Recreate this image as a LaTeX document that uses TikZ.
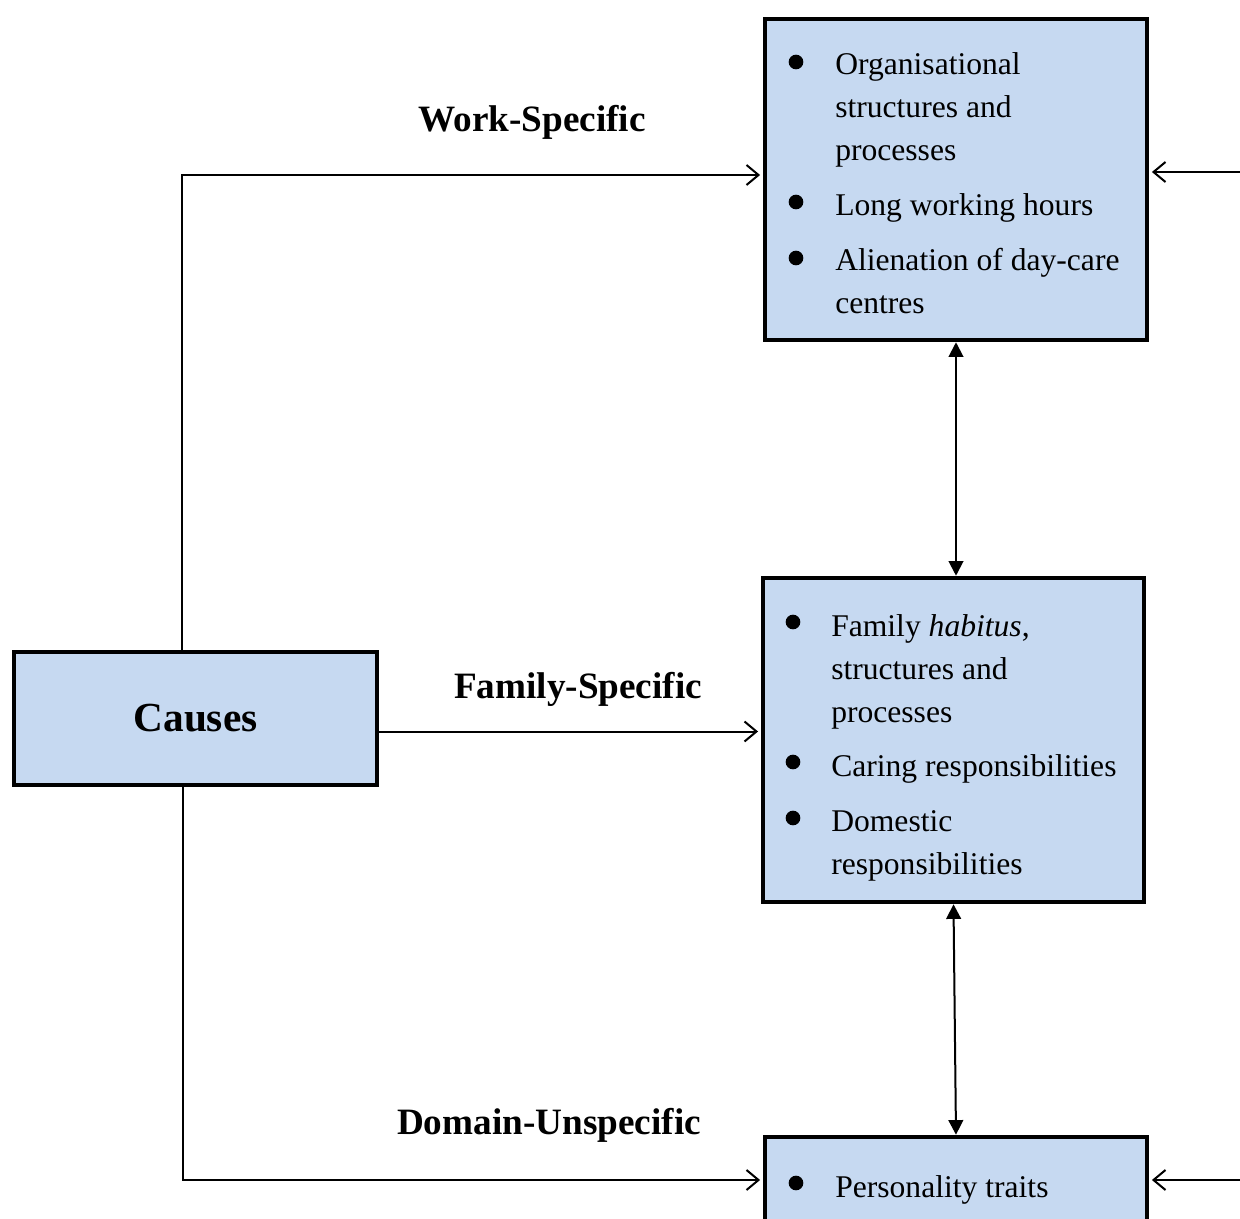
\documentclass[tikz,border=0pt]{standalone}
\usepackage{fontspec}
\setmainfont{Liberation Serif}
\usetikzlibrary{arrows.meta}
\definecolor{boxblue}{RGB}{198,217,241}
\begin{document}
\begin{tikzpicture}[x=0.75pt,y=-0.75pt,
  panel/.style={draw=black, line width=3.4pt, fill=boxblue, inner sep=0pt},
  link/.style={line width=1.5pt},
  openhead/.style={-{Straight Barb[length=9pt,width=15pt,line width=1.5pt]}, shorten >=2pt},
  twohead/.style={{Triangle[length=11pt,width=11pt]}-{Triangle[length=11pt,width=11pt]}},
  dot/.style={circle, fill=black, inner sep=0pt, minimum size=11pt},
  % multi-line items are placed by the baseline of their last line
  item/.style={anchor=base west, inner sep=0pt, align=left,
    font=\fontsize{23.7pt}{32.25pt}\selectfont},
  route/.style={anchor=base, inner sep=0pt, font=\fontsize{27.9pt}{32pt}\selectfont\bfseries},
]
\clip (0,0) rectangle (1240,1219);
\useasboundingbox (0,0) rectangle (1240,1219);

% boxes
\node[panel, minimum width=286.5pt, minimum height=240.75pt] (work) at (956,179.5) {};
\node[panel, minimum width=285.75pt, minimum height=243pt] (family) at (953.5,740) {};
\node[panel, minimum width=286.5pt, minimum height=240pt] (pers) at (956,1297) {};
\node[panel, minimum width=272.25pt, minimum height=99.75pt,
      font=\fontsize{31pt}{36pt}\selectfont\bfseries] (causes) at (195.5,718.5) {Causes};

% work-specific items
\node[dot] (w1) at (796,62) {};
\node[item] (wt1) at (835,161) {Organisational\\structures and\\processes};
\node[dot] (w2) at (796,202) {};
\node[item] (wt2) at (835,216) {Long working hours};
\node[dot] (w3) at (796,258) {};
\node[item] (wt3) at (835,314) {Alienation of day-care\\centres};

% family-specific items
\node[dot] (f1) at (793,622) {};
\node[item] (ft1) at (831,722) {Family \textit{habitus},\\structures and\\processes};
\node[dot] (f2) at (793,762) {};
\node[item] (ft2) at (831,776) {Caring responsibilities};
\node[dot] (f3) at (793,818) {};
\node[item] (ft3) at (831,874) {Domestic\\responsibilities};

% domain-unspecific items
\node[dot] (p1) at (796,1183) {};
\node[item] (pt1) at (835,1197) {Personality traits};

% route labels
\node[route] (lw) at (532,132) {Work-Specific};
\node[route] (lf) at (578,698) {Family-Specific};
\node[route] (ld) at (549,1134) {Domain-Unspecific};

% turning points and free ends
\coordinate (wturn) at (182,175);
\coordinate (fy) at (0,731.5);
\coordinate (dturn) at (183,1180);
\coordinate (rin1) at (1260,172);
\coordinate (rin2) at (1260,1180);

% connectors
\draw[link,openhead] (causes.north -| wturn) |- (work.west |- wturn);
\draw[link,openhead] (causes.east |- fy) -- (family.west |- fy);
\draw[link,openhead] (causes.south -| dturn) |- (pers.west |- dturn);
\draw[link,twohead] (work.south) -- (work.south |- family.north);
\draw[link,twohead] (family.south) -- (pers.north);
\draw[link,openhead] (rin1) -- (work.east |- rin1);
\draw[link,openhead] (rin2) -- (pers.east |- rin2);
\end{tikzpicture}
\end{document}
